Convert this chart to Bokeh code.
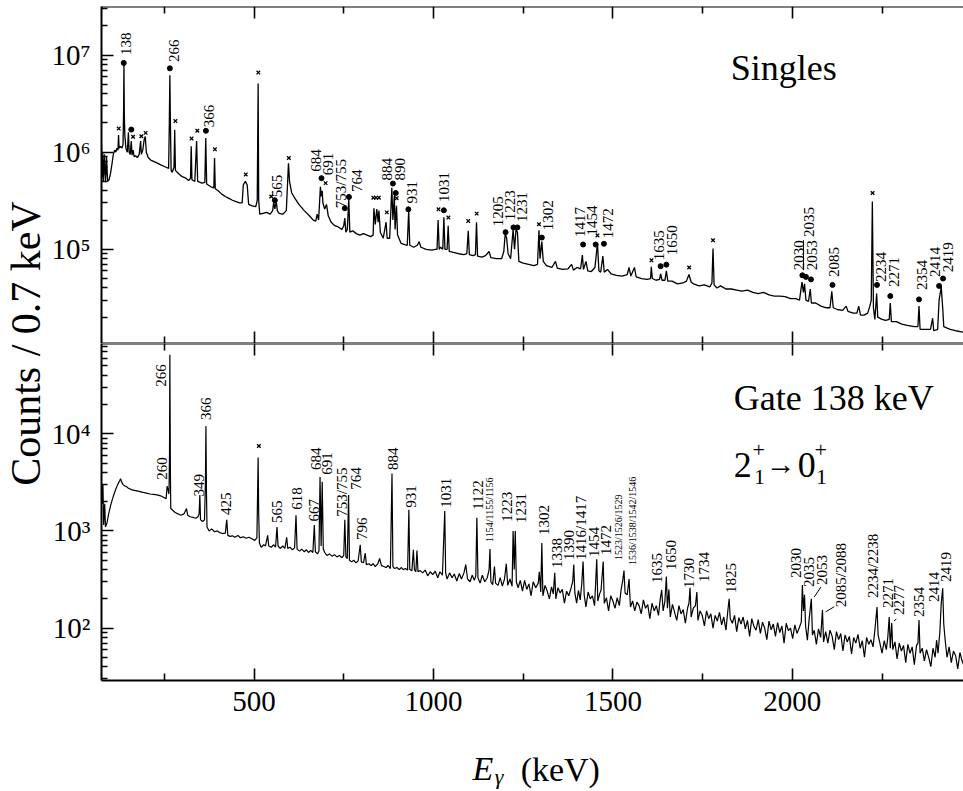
import math
from bokeh.plotting import figure
from bokeh.models import Range1d, LinearAxis, LogAxis, FixedTicker, Label, ColumnDataSource
from bokeh.layouts import row, column
from bokeh.embed import file_html
from bokeh.resources import INLINE
from bokeh.core.properties import value

FONT = "Liberation Serif"

# ---------------- data: singles spectrum (E in keV, counts / 0.7 keV) ----------------
singles_E = [
    75, 76, 78, 80, 83, 86, 89, 92, 96, 100,
    104, 108, 112, 115, 118, 121, 122.5, 124, 128, 132,
    135, 136.5, 137.5, 138.5, 140, 143, 147, 150, 152, 155,
    158, 160, 163, 166, 170, 175, 180, 184, 186, 190,
    194, 197, 200, 205, 212, 225, 240, 255, 262, 264,
    265.5, 267, 269, 272, 277, 279, 281, 290, 300, 310,
    318, 323, 325, 327, 335, 340, 343, 355, 363, 365.5,
    368, 380, 388, 390, 392, 400, 410, 420, 430, 440,
    450, 460, 467, 470, 476, 481, 485, 495, 505, 509,
    511.5, 513, 516, 525, 535, 545, 552, 555, 558, 562,
    565, 570, 580, 590, 596, 599, 605, 615, 625, 640,
    655, 665, 672, 676, 680, 685, 687, 690, 692, 697,
    702, 707, 715, 725, 735, 745, 750, 753, 756, 760,
    764, 767, 775, 785, 795, 805, 815, 825, 832, 834,
    838, 842, 846, 848, 852, 860, 868, 871, 878, 884,
    887, 891, 893, 897, 900, 910, 920, 927, 931, 934,
    945, 955, 960, 965, 980, 995, 1005, 1010, 1013, 1016,
    1020, 1026, 1029, 1032, 1038, 1041, 1044, 1055, 1070, 1085,
    1093, 1097, 1100, 1110, 1117, 1120, 1123, 1135, 1145, 1155,
    1160, 1175, 1190, 1196, 1200, 1204, 1208, 1215, 1222, 1226,
    1230, 1234, 1238, 1250, 1265, 1280, 1290, 1294, 1297, 1302,
    1306, 1315, 1330, 1340, 1345, 1360, 1375, 1385, 1390, 1400,
    1410, 1415, 1418, 1425, 1430, 1440, 1450, 1457, 1461, 1466,
    1472, 1476, 1485, 1495, 1510, 1525, 1540, 1545, 1550, 1560,
    1565, 1580, 1595, 1605, 1607, 1610, 1620, 1630, 1633, 1637,
    1645, 1649, 1653, 1665, 1680, 1695, 1705, 1712, 1718, 1725,
    1740, 1755, 1770, 1776, 1779, 1782, 1790, 1800, 1815, 1830,
    1845, 1860, 1875, 1890, 1905, 1920, 1935, 1950, 1965, 1980,
    1995, 2010, 2020, 2027, 2031, 2034, 2038, 2045, 2050, 2053,
    2065, 2080, 2095, 2105, 2110, 2114, 2125, 2140, 2150, 2155,
    2170, 2180, 2185, 2190, 2200, 2210, 2216, 2220, 2223, 2226,
    2230, 2235, 2238, 2250, 2260, 2270, 2273, 2276, 2290, 2305,
    2320, 2340, 2350, 2353, 2356, 2370, 2385, 2391, 2394, 2405,
    2409, 2415, 2419, 2422, 2430, 2440, 2455, 2477,
]
singles_counts = [
    1.2e6, 5.5e5, 1.0e6, 5.0e5, 9.5e5, 4.9e5, 9.0e5, 5.0e5, 5.2e5, 6.0e5,
    7.5e5, 9.5e5, 1.05e6, 1.0e6, 1.1e6, 1.05e6, 1.5e6, 1.1e6, 1.15e6, 1.1e6,
    1.2e6, 2.5e6, 8.3e6, 2.5e6, 1.5e6, 1.1e6, 1.0e6, 1.6e6, 1.0e6, 9.5e5,
    1.3e6, 9.3e5, 1.05e6, 9.0e5, 9.2e5, 8.8e5, 9.5e5, 1.3e6, 9.5e5, 1.05e6,
    1.35e6, 1.45e6, 1.0e6, 8.8e5, 8.3e5, 7.9e5, 7.4e5, 7.0e5, 6.8e5, 2.0e6,
    6.2e6, 2.0e6, 6.5e5, 6.2e5, 7.0e5, 1.7e6, 6.5e5, 6.0e5, 5.6e5, 5.4e5,
    5.1e5, 5.4e5, 1.15e6, 5.2e5, 5.0e5, 1.3e6, 5.0e5, 4.8e5, 4.9e5, 1.4e6,
    4.7e5, 4.4e5, 4.3e5, 8.7e5, 4.2e5, 4.0e5, 3.7e5, 3.5e5, 3.35e5, 3.2e5,
    3.1e5, 3.0e5, 3.0e5, 4.6e5, 5.0e5, 4.6e5, 2.9e5, 2.8e5, 2.75e5, 3.2e5,
    5.1e6, 3.2e5, 2.3e5, 2.35e5, 2.4e5, 2.3e5, 2.5e5, 3.1e5, 2.6e5, 3.1e5,
    2.5e5, 2.35e5, 2.3e5, 2.5e5, 7.7e5, 5.0e5, 3.8e5, 3.3e5, 2.9e5, 2.5e5,
    2.2e5, 2.0e5, 1.95e5, 2.3e5, 2.0e5, 4.4e5, 3.5e5, 4.0e5, 3.0e5, 2.6e5,
    2.9e5, 2.2e5, 1.9e5, 1.75e5, 1.7e5, 1.6e5, 1.75e5, 2.1e5, 1.5e5, 1.6e5,
    3.3e5, 1.5e5, 1.55e5, 1.45e5, 1.4e5, 1.45e5, 1.4e5, 1.35e5, 1.4e5, 2.65e5,
    1.8e5, 2.6e5, 1.9e5, 2.5e5, 1.5e5, 1.3e5, 1.9e5, 1.3e5, 1.3e5, 4.3e5,
    2.0e5, 3.6e5, 1.6e5, 2.8e5, 1.4e5, 1.15e5, 1.12e5, 1.1e5, 2.5e5, 1.1e5,
    1.05e5, 1.1e5, 1.2e5, 1.05e5, 1.0e5, 9.8e4, 1.0e5, 1.0e5, 2.0e5, 1.0e5,
    1.05e5, 1.0e5, 2.14e5, 1.0e5, 1.0e5, 1.75e5, 9.5e4, 9.3e4, 9.0e4, 8.8e4,
    9.0e4, 1.55e5, 8.8e4, 8.6e4, 8.8e4, 1.9e5, 8.5e4, 8.3e4, 8.6e4, 9.5e4,
    8.2e4, 8.0e4, 8.0e4, 9.5e4, 1.45e5, 1.3e5, 9.0e4, 8.0e4, 1.6e5, 1.0e5,
    1.6e5, 1.5e5, 7.5e4, 7.2e4, 7.0e4, 6.8e4, 7.0e4, 1.57e5, 8.0e4, 1.2e5,
    7.5e4, 6.8e4, 6.5e4, 7.5e4, 6.4e4, 6.2e4, 6.3e4, 7.0e4, 6.1e4, 6.5e4,
    6.3e4, 8.7e4, 6.2e4, 7.5e4, 6.0e4, 5.9e4, 6.5e4, 1.15e5, 6.0e4, 5.8e4,
    8.5e4, 5.8e4, 6.2e4, 5.6e4, 5.4e4, 5.3e4, 5.5e4, 6.5e4, 5.3e4, 6.5e4,
    5.2e4, 5.0e4, 4.9e4, 5.0e4, 6.6e4, 5.0e4, 4.8e4, 4.9e4, 5.6e4, 4.8e4,
    4.8e4, 6.0e4, 4.7e4, 4.7e4, 4.4e4, 4.5e4, 4.7e4, 5.5e4, 4.6e4, 4.4e4,
    4.2e4, 4.3e4, 4.1e4, 4.5e4, 1.02e5, 4.3e4, 4.0e4, 4.2e4, 3.9e4, 3.9e4,
    3.8e4, 3.7e4, 3.8e4, 3.6e4, 3.5e4, 3.6e4, 3.4e4, 3.3e4, 3.3e4, 3.25e4,
    3.1e4, 3.1e4, 3.0e4, 4.6e4, 3.6e4, 4.4e4, 3.0e4, 2.9e4, 3.9e4, 2.8e4,
    2.8e4, 2.6e4, 2.5e4, 2.5e4, 3.7e4, 2.5e4, 2.4e4, 2.35e4, 2.6e4, 2.3e4,
    2.2e4, 2.2e4, 2.6e4, 2.1e4, 2.1e4, 2.2e4, 2.6e4, 3.0e4, 3.1e5, 2.5e4,
    1.9e4, 3.5e4, 2.0e4, 1.9e4, 1.85e4, 1.9e4, 2.8e4, 1.8e4, 1.8e4, 1.7e4,
    1.65e4, 1.6e4, 1.6e4, 2.6e4, 1.5e4, 1.5e4, 1.5e4, 1.95e4, 1.45e4, 1.5e4,
    3.0e4, 4.1e4, 2.5e4, 1.6e4, 1.55e4, 1.5e4, 1.45e4, 1.4e4,
]

# peak labels, dots and contaminant crosses of the singles spectrum
singles_label_text = ["138", "266", "366", "565", "684", "691", "753/755", "764", "884", "890",
                      "931", "1031", "1205", "1223", "1231", "1302", "1417", "1454", "1472", "1635",
                      "1650", "2030", "2035", "2053", "2085", "2234", "2271", "2354", "2414", "2419"]
singles_label_E = [142, 276, 374, 565, 674, 707, 743, 786, 870, 906,
                   941, 1029, 1181, 1213, 1246, 1318, 1408, 1443, 1485, 1629,
                   1666, 2019, 2047, 2056, 2117, 2247, 2284, 2360, 2397, 2433]
singles_label_y = [1.0e7, 8.5e6, 1.81e6, 3.44e5, 6.3e5, 5.8e5, 2.65e5, 3.9e5, 5.1e5, 5.1e5,
                   2.96e5, 3.07e5, 1.73e5, 1.99e5, 1.91e5, 1.57e5, 1.34e5, 1.39e5, 1.3e5, 7.7e4,
                   8.7e4, 6.1e4, 1.34e5, 6.1e4, 5.2e4, 4.6e4, 4.1e4, 3.8e4, 5.2e4, 5.8e4]
singles_dot_E = [137, 158, 265.5, 366, 558, 688, 753, 764.5, 887, 895,
                 930, 1029, 1201, 1223, 1234, 1302, 1417, 1452, 1475, 1633,
                 1649, 2028, 2038, 2052, 2112, 2236, 2273, 2353, 2409, 2420]
singles_dot_y = [8.3e6, 1.71e6, 7.3e6, 1.66e6, 3.2e5, 5.4e5, 2.65e5, 3.46e5, 4.75e5, 3.8e5,
                 2.58e5, 2.52e5, 1.5e5, 1.68e5, 1.68e5, 1.32e5, 1.12e5, 1.12e5, 1.14e5, 6.7e4,
                 6.95e4, 5.4e4, 5.2e4, 4.9e4, 4.3e4, 4.3e4, 3.3e4, 3.05e4, 4.2e4, 5.0e4]
singles_cross_E = [123, 163, 186, 198, 281, 326, 342, 391, 477, 512,
                   548, 597, 699.5, 832.5, 840, 848, 870, 897.5, 1014, 1041.6,
                   1097, 1120.5, 1294, 1457, 1607.6, 1712.5, 1779, 2223.7]
singles_cross_y = [1.75e6, 1.44e6, 1.46e6, 1.58e6, 2.09e6, 1.38e6, 1.66e6, 1.07e6, 5.9e5, 6.6e6,
                   3.5e5, 8.7e5, 4.8e5, 3.4e5, 3.4e5, 3.4e5, 2.4e5, 3.36e5, 2.58e5, 2.12e5,
                   1.96e5, 2.33e5, 1.81e5, 1.39e5, 7.7e4, 6.5e4, 1.24e5, 3.8e5]
singles_bar_E = [2031, 2031]
singles_bar_y = [1.24e5, 6.1e4]

# ---------------- data: spectrum gated on 138 keV ----------------
gate_E = [
    75, 77, 79, 81, 84, 86, 90, 95, 100, 105,
    110, 115, 120, 126, 128, 131, 135, 140, 145, 150,
    160, 170, 180, 190, 200, 210, 220, 230, 240, 250,
    255, 258, 261, 263, 264.5, 265.5, 267, 268, 272, 280,
    288, 296, 305, 312, 315, 322, 330, 338, 344, 347,
    349, 351, 357, 362, 364.5, 366, 367.5, 369, 375, 382,
    390, 398, 405, 412, 420, 424, 427, 433, 440, 447,
    455, 462, 470, 478, 486, 494, 502, 508, 510, 511.5,
    513, 515, 520, 527, 532, 538, 541, 548, 555, 560,
    564, 567, 573, 580, 586, 591, 594, 600, 607, 613,
    617, 620, 627, 633, 640, 646, 652, 658, 664, 668,
    671, 677, 681, 684, 687, 690, 693, 697, 703, 710,
    717, 724, 731, 738, 745, 750, 753, 756, 760, 763.5,
    766, 772, 778, 784, 790, 796, 799, 805, 810, 813,
    820, 826, 832, 838, 845, 850, 855, 862, 868, 874,
    880, 884.5, 887, 892, 898, 905, 910, 916, 922, 928,
    931.5, 934, 940, 944, 947, 951, 954, 957, 963, 970,
    977, 984, 991, 998, 1005, 1012, 1018, 1025, 1031.5, 1034,
    1038, 1045, 1052, 1058, 1065, 1072, 1078, 1085, 1090, 1095,
    1102, 1108, 1114, 1118, 1121, 1124, 1130, 1136, 1143, 1150,
    1155, 1157.5, 1160, 1165, 1170, 1173, 1180, 1186, 1192, 1198,
    1203, 1207, 1213, 1219, 1222, 1225, 1228, 1231, 1236, 1242,
    1248, 1254, 1260, 1266, 1272, 1278, 1285, 1292, 1295, 1299,
    1302, 1305, 1311, 1317, 1323, 1329, 1334, 1338, 1341, 1347,
    1353, 1359, 1365, 1371, 1377, 1383, 1388, 1391, 1394, 1399,
    1404, 1409, 1413, 1417, 1420, 1425, 1431, 1437, 1443, 1449,
    1455, 1458, 1463, 1467, 1473, 1476, 1482, 1488, 1494, 1500,
    1506, 1512, 1518, 1523, 1527, 1531, 1534, 1540, 1545, 1549,
    1555, 1561, 1567, 1573, 1579, 1585, 1591, 1597, 1603, 1609,
    1615, 1621, 1627, 1632, 1636, 1640, 1645, 1649, 1652, 1656,
    1660, 1666, 1672, 1678, 1684, 1690, 1696, 1702, 1708, 1712,
    1715, 1718, 1724, 1730, 1734, 1737, 1743, 1749, 1755, 1761,
    1767, 1773, 1779, 1785, 1791, 1797, 1803, 1809, 1815, 1821,
    1824, 1827, 1833, 1839, 1845, 1851, 1857, 1863, 1869, 1875,
    1881, 1887, 1893, 1899, 1905, 1911, 1917, 1923, 1929, 1935,
    1941, 1947, 1953, 1959, 1965, 1971, 1977, 1983, 1989, 1995,
    2001, 2007, 2013, 2019, 2025, 2028, 2031, 2034, 2037, 2042,
    2047, 2053, 2056, 2061, 2067, 2073, 2079, 2084, 2087, 2093,
    2099, 2105, 2111, 2117, 2123, 2129, 2135, 2141, 2147, 2153,
    2159, 2165, 2171, 2177, 2183, 2189, 2195, 2201, 2207, 2213,
    2219, 2225, 2230, 2236, 2239, 2244, 2250, 2256, 2262, 2266,
    2270, 2273, 2277, 2280, 2286, 2292, 2298, 2304, 2310, 2316,
    2322, 2328, 2334, 2340, 2346, 2350, 2353, 2356, 2362, 2368,
    2374, 2380, 2386, 2392, 2398, 2402, 2406, 2411, 2415, 2419,
    2422, 2426, 2431, 2437, 2443, 2449, 2455, 2461, 2467, 2473,
    2477,
]
gate_counts = [
    3100, 1900, 3000, 1150, 1900, 1100, 1200, 1500, 1800, 2100,
    2400, 2700, 3000, 3300, 3450, 3200, 3000, 2900, 2850, 2750,
    2650, 2600, 2550, 2500, 2450, 2400, 2380, 2350, 2300, 2200,
    2150, 2900, 2600, 2400, 6000, 65000, 4000, 1700, 1650, 1550,
    1500, 1450, 1500, 1700, 1450, 1400, 1380, 1350, 1400, 1500,
    2350, 1300, 1250, 1300, 3000, 12000, 2500, 1100, 1000, 1050,
    980, 1000, 960, 940, 950, 1300, 900, 880, 890, 860,
    900, 850, 870, 840, 860, 830, 800, 850, 2500, 5700,
    1500, 750, 680, 720, 700, 900, 700, 680, 720, 680,
    1100, 700, 660, 700, 660, 860, 660, 680, 640, 670,
    1450, 650, 620, 650, 610, 640, 600, 630, 600, 1150,
    610, 580, 620, 3600, 700, 3200, 650, 600, 560, 580,
    550, 570, 540, 560, 530, 560, 1300, 540, 520, 2350,
    500, 480, 500, 470, 490, 720, 480, 470, 590, 450,
    460, 440, 460, 430, 460, 520, 440, 430, 420, 440,
    410, 3900, 430, 410, 420, 400, 420, 400, 410, 395,
    1650, 400, 390, 640, 400, 380, 630, 380, 390, 370,
    395, 345, 380, 355, 385, 330, 380, 350, 1600, 370,
    320, 370, 330, 360, 305, 365, 320, 370, 450, 320,
    300, 350, 310, 345, 1370, 330, 290, 350, 300, 330,
    400, 650, 300, 280, 430, 290, 275, 330, 270, 320,
    460, 275, 320, 270, 1000, 400, 1000, 300, 260, 310,
    240, 310, 250, 285, 215, 300, 260, 290, 380, 235,
    750, 215, 275, 240, 200, 265, 225, 370, 200, 260,
    230, 250, 180, 240, 215, 255, 300, 450, 230, 180,
    245, 195, 280, 485, 220, 165, 235, 200, 215, 170,
    510, 190, 225, 245, 485, 180, 205, 150, 215, 190,
    160, 205, 170, 250, 300, 390, 230, 220, 320, 165,
    190, 150, 185, 170, 140, 195, 160, 175, 125, 180,
    150, 170, 135, 200, 247, 150, 190, 340, 160, 250,
    130, 175, 145, 120, 170, 140, 155, 112, 160, 180,
    260, 130, 160, 170, 235, 120, 150, 135, 105, 150,
    125, 140, 100, 135, 118, 145, 108, 130, 95, 160,
    200, 125, 112, 135, 92, 128, 110, 130, 98, 120,
    82, 125, 104, 95, 122, 88, 115, 100, 76, 118,
    96, 110, 82, 114, 90, 105, 70, 112, 94, 100,
    78, 108, 88, 100, 115, 277, 150, 220, 105, 75,
    125, 200, 85, 95, 68, 98, 80, 153, 72, 92,
    70, 95, 82, 60, 92, 76, 88, 58, 85, 72,
    82, 54, 80, 70, 86, 62, 74, 50, 80, 68,
    76, 64, 95, 165, 85, 70, 55, 74, 60, 80,
    130, 62, 113, 60, 72, 48, 70, 58, 66, 44,
    68, 55, 64, 42, 66, 70, 121, 55, 62, 46,
    60, 50, 40, 62, 50, 75, 55, 90, 180, 257,
    110, 75, 50, 64, 44, 58, 52, 38, 56, 46,
    42,
]

gate_label_text = ["266", "260", "349", "366", "425", "565", "618", "667", "684", "691",
                   "753/755", "764", "796", "884", "931", "1031", "1122", "1223", "1231", "1302",
                   "1338", "1390", "1416/1417", "1454", "1472", "1635", "1650", "1730", "1734", "1825",
                   "2030", "2035", "2053", "2085/2088", "2234/2238", "2271", "2277", "2354", "2414", "2419"]
gate_label_E = [239.5, 244, 346, 367, 422.7, 565, 620.6, 667, 671.6, 704,
                746, 783, 802, 888, 936.5, 1034, 1124, 1206, 1243, 1308,
                1343.5, 1378, 1410, 1447.5, 1480, 1624, 1661, 1712, 1754, 1828.7,
                2010, 2047, 2084, 2135, 2224, 2265.5, 2298, 2353.6, 2393.8, 2428]
gate_label_y = [30500, 3360, 2260, 13900, 1460, 1210, 1650, 1250, 4250, 3780,
                1400, 2650, 807, 4250, 1730, 1730, 1650, 1240, 1210, 910,
                416, 502, 502, 540, 566, 291, 396, 258, 298, 230,
                327, 265, 277, 164, 204, 161, 136, 130, 185, 298]
gate_small_text = ["1154/1155/1156", "1523/1526/1529", "1536/1538/1542/1546"]
gate_small_E = [1157, 1517, 1554.6]
gate_small_y = [771, 502, 446]
gate_cross_E = [513.5]
gate_cross_y = [7.5e3]
gate_leader_E0 = [2080, 2117, 2290]
gate_leader_y0 = [265, 166, 124]
gate_leader_E1 = [2061, 2093, 2283]
gate_leader_y1 = [209, 147, 118]

# ---------------- axes ----------------
x_limits = [75, 2477]
x_major_ticks = [500, 1000, 1500, 2000]
x_minor_ticks = [250, 750, 1250, 1750, 2250]
singles_limits = [10 ** 4.03, 10 ** 7.5]
gate_limits = [10 ** 1.46, 10 ** 4.93]
SUP = {2: "\u00b2", 3: "\u00b3", 4: "\u2074", 5: "\u2075", 6: "\u2076", 7: "\u2077"}
singles_tick_labels = {10.0 ** d: "10" + SUP[d] for d in (5, 6, 7)}
gate_tick_labels = {10.0 ** d: "10" + SUP[d] for d in (2, 3, 4)}

# ---------------- layout ----------------
STRIP_W = 48
MAIN_W = 963 - STRIP_W
LEFT_B = 101 - STRIP_W
TOP_H = 343
FRAME_H = 337
BOT_H = FRAME_H + 60
XT_H = 791 - TOP_H - BOT_H

x_range = Range1d(*x_limits)


def log_minor_ticks(lo, hi):
    out = []
    e = math.floor(math.log10(lo))
    while 10 ** e <= hi:
        for m in range(2, 10):
            v = m * 10 ** e
            if lo <= v <= hi:
                out.append(v)
        e += 1
    return out


def x_ticker():
    return FixedTicker(ticks=x_major_ticks, minor_ticks=x_minor_ticks)


def frame_axis(**kw):
    return LinearAxis(ticker=x_ticker(), major_label_text_font_size="2px",
                      major_label_text_color=None,
                      major_tick_in=12, major_tick_out=0, minor_tick_in=7, minor_tick_out=0,
                      axis_line_width=2, major_tick_line_width=1.6, minor_tick_line_width=1.6,
                      major_label_standoff=0, **kw)


def make_panel(height, ylim, tick_labels, top_b, bottom_b):
    p = figure(width=MAIN_W, height=height, x_range=x_range, y_range=Range1d(*ylim),
               y_axis_type="log", x_axis_location=None, y_axis_location=None,
               output_backend="svg", toolbar_location=None,
               min_border_left=LEFT_B, min_border_right=0,
               min_border_top=top_b, min_border_bottom=bottom_b)
    p.outline_line_color = None
    p.grid.visible = False
    yt = FixedTicker(ticks=[10.0 ** d for d in range(0, 9)],
                     minor_ticks=log_minor_ticks(ylim[0], ylim[1]))
    ly = LogAxis(ticker=yt, major_label_overrides=tick_labels,
                 major_label_text_font=FONT, major_label_text_font_size="29px",
                 major_label_text_color="black", major_label_standoff=11,
                 axis_line_width=2,
                 major_tick_in=12, major_tick_out=0, minor_tick_in=6, minor_tick_out=0,
                 major_tick_line_width=1.6, minor_tick_line_width=1.4)
    p.add_layout(ly, "left")
    p.add_layout(frame_axis(fixed_location=ylim[1]), "above")
    return p


# ---------------- top panel: singles ----------------
top = make_panel(TOP_H, singles_limits, singles_tick_labels, TOP_H - FRAME_H, 0)
top.add_layout(frame_axis(fixed_location=singles_limits[0]), "below")
top.line(singles_E, singles_counts, line_color="black", line_width=1.3)
top.scatter(singles_dot_E, singles_dot_y, marker="circle", size=5, color="black")
top.scatter(singles_cross_E, singles_cross_y, marker="x", size=5, line_color="black", line_width=1.3)
top.line(singles_bar_E, singles_bar_y, line_color="black", line_width=1)
top.text(x="x", y="y", text="t",
         source=ColumnDataSource(dict(x=singles_label_E, y=singles_label_y, t=singles_label_text)),
         angle=math.pi / 2, text_align="left", text_baseline="middle",
         text_font=value(FONT), text_font_size="15px", text_color="black")
top.add_layout(Label(x=1828.7, y=7.35e6, text="Singles", text_align="left", text_baseline="middle",
                     text_font=FONT, text_font_size="36px", text_color="black"))

# ---------------- bottom panel: gate 138 keV ----------------
bot = make_panel(BOT_H, gate_limits, gate_tick_labels, 0, BOT_H - FRAME_H)
xa = LinearAxis(ticker=x_ticker(), major_tick_in=12, major_tick_out=0, minor_tick_in=7,
                minor_tick_out=0, axis_line_width=2, major_tick_line_width=1.6,
                minor_tick_line_width=1.6, major_label_standoff=11,
                major_label_text_font=FONT, major_label_text_font_size="29px",
                major_label_text_color="black")
bot.add_layout(xa, "below")
bot.line(gate_E, gate_counts, line_color="black", line_width=1.2)
bot.scatter(gate_cross_E, gate_cross_y, marker="x", size=5, line_color="black", line_width=1.3)
bot.segment(x0=gate_leader_E0, y0=gate_leader_y0, x1=gate_leader_E1, y1=gate_leader_y1,
            line_color="black", line_width=1)
bot.text(x="x", y="y", text="t",
         source=ColumnDataSource(dict(x=gate_label_E, y=gate_label_y, t=gate_label_text)),
         angle=math.pi / 2, text_align="left", text_baseline="middle",
         text_font=value(FONT), text_font_size="15px", text_color="black")
bot.text(x="x", y="y", text="t",
         source=ColumnDataSource(dict(x=gate_small_E, y=gate_small_y, t=gate_small_text)),
         angle=math.pi / 2, text_align="left", text_baseline="middle",
         text_font=value(FONT), text_font_size="10px", text_color="black")


def add_label(p, x, y, t, size, style="normal"):
    p.add_layout(Label(x=x, y=y, text=t, text_align="left", text_baseline="middle",
                       text_font=FONT, text_font_size=size, text_font_style=style,
                       text_color="black"))


add_label(bot, 1837, 2.35e4, "Gate 138 keV", "36px")
add_label(bot, 1837, 4790, "2", "36px")
add_label(bot, 1893, 3560, "1", "22px")
add_label(bot, 1889, 6840, "+", "22px")
add_label(bot, 1926, 5000, "\u2192", "30px")
add_label(bot, 2015, 4790, "0", "36px")
add_label(bot, 2066, 3560, "1", "22px")
add_label(bot, 2062, 6840, "+", "22px")

# ---------------- x-axis title strip:  E_gamma (keV) ----------------
xt = figure(width=MAIN_W, height=XT_H, x_range=x_range, y_range=Range1d(0, XT_H),
            x_axis_location=None, y_axis_location=None, output_backend="svg",
            toolbar_location=None, min_border_left=LEFT_B, min_border_right=0,
            min_border_top=0, min_border_bottom=0)
xt.outline_line_color = None
xt.grid.visible = False
add_label(xt, 1109, 23.5, "E", "34px", "italic")
add_label(xt, 1171, 15, "\u03b3", "22px", "italic")
add_label(xt, 1243, 22.5, "(keV)", "34px")

# ---------------- left strip with the y-axis title ----------------
strip = figure(width=STRIP_W, height=791, x_range=Range1d(0, STRIP_W), y_range=Range1d(0, 791),
               x_axis_location=None, y_axis_location=None, output_backend="svg",
               toolbar_location=None, min_border=0)
strip.outline_line_color = None
strip.grid.visible = False
strip.add_layout(Label(x=25, y=791 - 343, text="Counts / 0.7 keV", angle=math.pi / 2,
                       text_align="center", text_baseline="middle", text_font=FONT,
                       text_font_size="42px", text_color="black"))

layout = row(strip, column(top, bot, xt))
open("out.html", "w").write(file_html(layout, INLINE))
